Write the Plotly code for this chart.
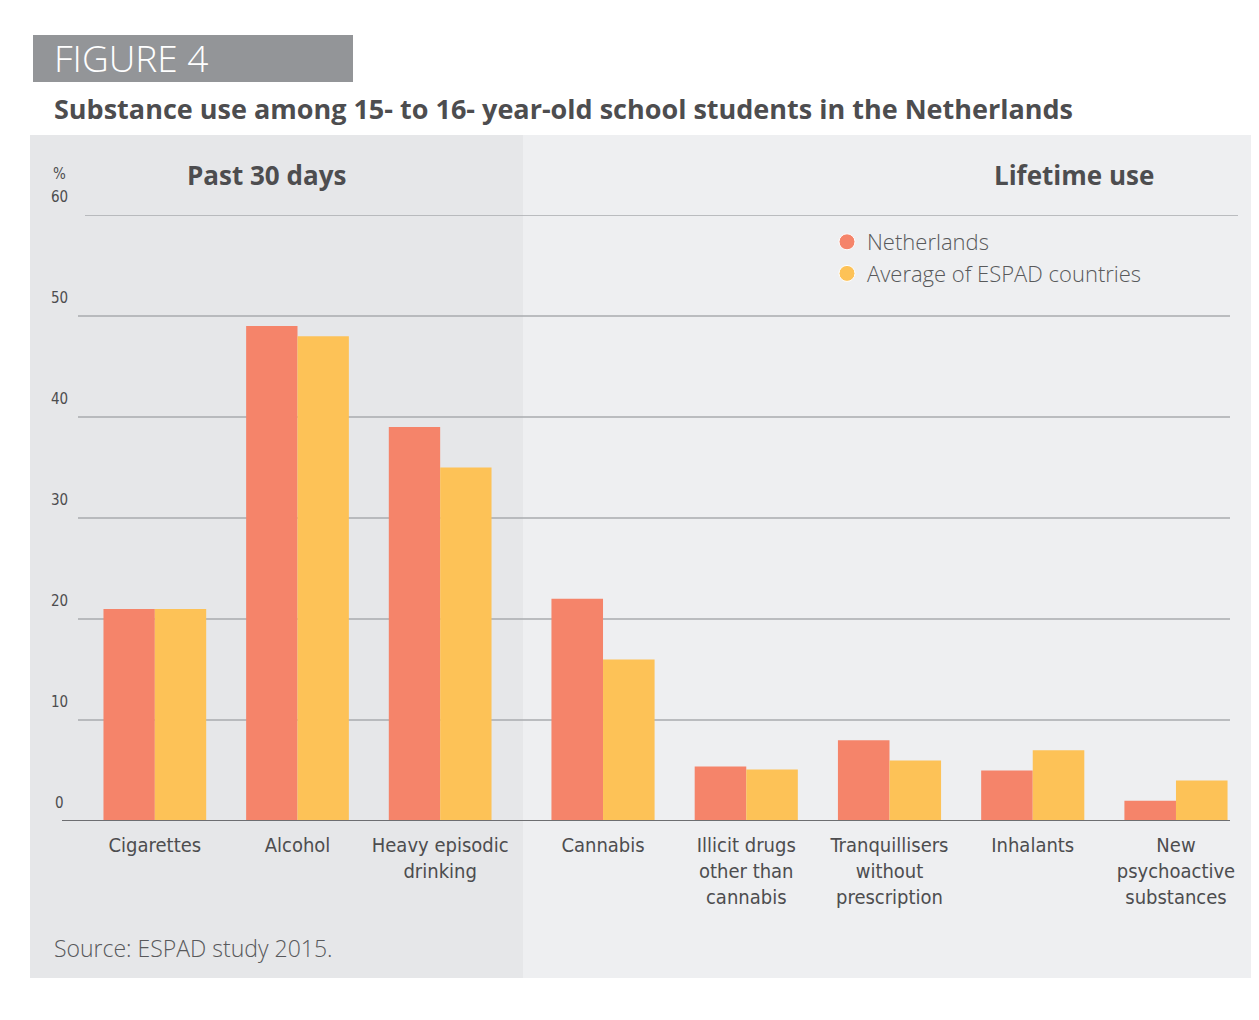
import plotly.graph_objects as go

# page has an 8px body margin: figure occupies window area from (8,8)
OFF = 8
W, H = 1259 - OFF, 1020 - OFF

categories = ["Cigarettes", "Alcohol", "Heavy episodic<br>drinking",
              "Cannabis", "Illicit drugs<br>other than<br>cannabis",
              "Tranquillisers<br>without<br>prescription", "Inhalants",
              "New<br>psychoactive<br>substances"]
netherlands = [21, 49, 39, 22, 5.4, 8, 5, 2]
espad_avg = [21, 48, 35, 16, 5.1, 6, 7, 4]
n_past30 = 3  # first three categories: past 30 days; rest: lifetime use
y_ticks = [0, 10, 20, 30, 40, 50, 60]
series_names = ["Netherlands", "Average of ESPAD countries"]

C_NL = "#f5846a"
C_AV = "#fdc257"
TXT = "#4d4d4f"
COND = "DejaVu Sans Condensed, Liberation Sans Narrow, sans-serif"
SANS = "Open Sans"

def px(x):
    return (x - OFF) / W

def py(y):
    return 1 - (y - OFF) / H

fig = go.Figure()

groups = [("x", categories[:n_past30], netherlands[:n_past30], espad_avg[:n_past30]),
          ("x2", categories[n_past30:], netherlands[n_past30:], espad_avg[n_past30:])]
for xa, cats, nl, av in groups:
    fig.add_trace(go.Bar(x=cats, y=nl, name=series_names[0], xaxis=xa, yaxis="y",
                         marker=dict(color=C_NL, line=dict(width=0)), showlegend=False))
    fig.add_trace(go.Bar(x=cats, y=av, name=series_names[1], xaxis=xa, yaxis="y",
                         marker=dict(color=C_AV, line=dict(width=0)), showlegend=False))

# legend entries as circles
for name, col in zip(series_names, [C_NL, C_AV]):
    fig.add_trace(go.Scatter(x=[None], y=[None], mode="markers", name=name,
                             xaxis="x2", yaxis="y",
                             marker=dict(symbol="circle", size=22, color=col,
                                         line=dict(color="white", width=1))))

shapes = [
    dict(type="rect", xref="paper", yref="paper", x0=px(30), x1=1.01, y0=py(978), y1=py(135),
         fillcolor="#eeeff1", line=dict(width=0), layer="below"),
    dict(type="rect", xref="paper", yref="paper", x0=px(30), x1=px(523), y0=py(978), y1=py(135),
         fillcolor="#e6e7e9", line=dict(width=0), layer="below"),
    dict(type="rect", xref="paper", yref="paper", x0=px(33), x1=px(353), y0=py(82), y1=py(35),
         fillcolor="#939598", line=dict(width=0), layer="below"),
]
for t in y_ticks[1:]:
    x0, x1 = (85, 1238) if t == 60 else (78, 1230)
    shapes.append(dict(type="line", xref="paper", yref="y", x0=px(x0), x1=px(x1), y0=t, y1=t,
                       line=dict(color="#a9abae", width=1.5), layer="below"))
shapes.append(dict(type="line", xref="paper", yref="y", x0=px(62), x1=px(1230), y0=0, y1=0,
                   line=dict(color="#6d6e71", width=2), layer="above"))

annotations = [
    dict(text="FIGURE 4", x=px(52), y=py(57), xref="paper", yref="paper", xanchor="left",
         yanchor="middle", showarrow=False,
         font=dict(family=SANS, size=37, color="white", weight=300)),
    dict(text="<b>Substance use among 15- to 16- year-old school students in the Netherlands</b>",
         x=px(52), y=py(109), xref="paper", yref="paper", xanchor="left", yanchor="middle",
         showarrow=False, font=dict(family=SANS, size=27, color=TXT)),
    dict(text="<b>Past 30 days</b>", x=px(266), y=py(175), xref="paper", yref="paper",
         xanchor="center", yanchor="middle", showarrow=False,
         font=dict(family=SANS, size=26, color=TXT)),
    dict(text="<b>Lifetime use</b>", x=px(1074), y=py(175), xref="paper", yref="paper",
         xanchor="center", yanchor="middle", showarrow=False,
         font=dict(family=SANS, size=26, color=TXT)),
    dict(text="%", x=px(59), y=py(174), xref="paper", yref="paper", xanchor="center",
         yanchor="middle", showarrow=False, font=dict(family=COND, size=15, color=TXT)),
    dict(text="Source: ESPAD study 2015.", x=px(52), y=py(948), xref="paper", yref="paper",
         xanchor="left", yanchor="middle", showarrow=False,
         font=dict(family=SANS, size=23, color="#58595b", weight=300)),
]
for t in y_ticks:
    annotations.append(dict(text=str(t), x=px(59), y=t, xref="paper", yref="y",
                            xanchor="center", yanchor="middle", yshift=18, showarrow=False,
                            font=dict(family=COND, size=15, color=TXT)))

axis_common = dict(type="category", showgrid=False, zeroline=False, showline=False,
                   ticks="", tickfont=dict(family=COND, size=20, color=TXT), anchor="y",
                   ticklabelstandoff=10, fixedrange=True)

fig.update_layout(
    width=W, height=H,
    margin=dict(l=0, r=0, t=0, b=0),
    paper_bgcolor="white", plot_bgcolor="rgba(0,0,0,0)",
    barmode="group", bargap=0.28, bargroupgap=0,
    xaxis=dict(domain=[px(83.5), px(511.5)], **axis_common),
    xaxis2=dict(domain=[px(531.4), px(1247.6)], **axis_common),
    yaxis=dict(domain=[py(821), py(215)], range=[0, 60], showgrid=False, zeroline=False,
               showticklabels=False, showline=False, fixedrange=True),
    shapes=shapes,
    annotations=annotations,
    showlegend=True,
    legend=dict(x=px(827), y=py(221), xanchor="left", yanchor="top", bgcolor="rgba(0,0,0,0)",
                font=dict(family=SANS, size=22, color="#58595b", weight=300),
                itemsizing="trace", tracegroupgap=0, itemwidth=30),
)

fig.write_html("out.html")
